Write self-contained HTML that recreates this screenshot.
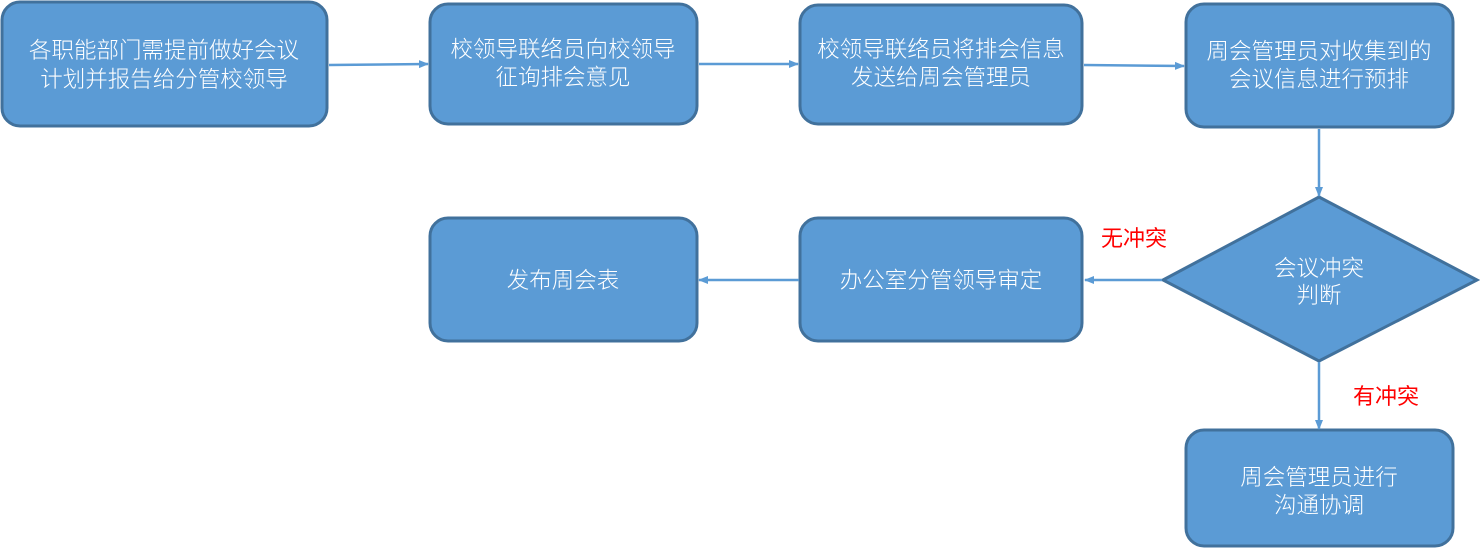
<!DOCTYPE html>
<html><head><meta charset="utf-8"><style>
html,body{margin:0;padding:0;background:#fff;width:1480px;height:549px;overflow:hidden}
text{font-family:"Liberation Sans","Noto Sans CJK SC",sans-serif}
</style></head><body>
<svg width="1480" height="549" viewBox="0 0 1480 549" xmlns="http://www.w3.org/2000/svg">
<defs><marker id="a" markerWidth="10" markerHeight="10" refX="9" refY="5" orient="auto" markerUnits="userSpaceOnUse"><path d="M0,1 L10,5 L0,9 z" fill="#5b9bd5"/></marker></defs>
<g fill="#5b9bd5" stroke="#41719c" stroke-width="3">
<rect x="2" y="2" width="325" height="124" rx="18"/>
<rect x="430" y="4" width="267" height="120" rx="18"/>
<rect x="800" y="5" width="282" height="119" rx="18"/>
<rect x="1186" y="4" width="267" height="123" rx="18"/>
<rect x="430" y="218" width="267" height="123" rx="18"/>
<rect x="800" y="218" width="282" height="123" rx="18"/>
<rect x="1186" y="430" width="267" height="116" rx="18"/>
<polygon points="1163,280 1319,197 1477,280 1319,361"/>
</g>
<g stroke="#5b9bd5" stroke-width="2.5" fill="none" marker-end="url(#a)">
<line x1="329" y1="65" x2="428" y2="64"/>
<line x1="699" y1="64" x2="798" y2="64"/>
<line x1="1084" y1="65" x2="1184" y2="66"/>
<line x1="1319" y1="129" x2="1319" y2="196"/>
<line x1="1162" y1="280" x2="1085" y2="280"/>
<line x1="799" y1="280" x2="699" y2="280"/>
<line x1="1319" y1="362" x2="1319" y2="429"/>
</g>
<g fill="#fff" font-size="22.5" font-weight="300" text-anchor="middle">
<text x="164" y="58">各职能部门需提前做好会议</text>
<text x="164" y="87">计划并报告给分管校领导</text>
<text x="563" y="57">校领导联络员向校领导</text>
<text x="563" y="85">征询排会意见</text>
<text x="941" y="57">校领导联络员将排会信息</text>
<text x="941" y="85">发送给周会管理员</text>
<text x="1319" y="59">周会管理员对收集到的</text>
<text x="1319" y="87">会议信息进行预排</text>
<text x="563" y="288">发布周会表</text>
<text x="941" y="288">办公室分管领导审定</text>
<text x="1319" y="276">会议冲突</text>
<text x="1319" y="303">判断</text>
<text x="1319" y="485">周会管理员进行</text>
<text x="1319" y="513">沟通协调</text>
</g>
<g fill="#ff0000" font-size="22" text-anchor="middle">
<text x="1134" y="246">无冲突</text>
<text x="1386" y="404">有冲突</text>
</g>
</svg>
</body></html>
